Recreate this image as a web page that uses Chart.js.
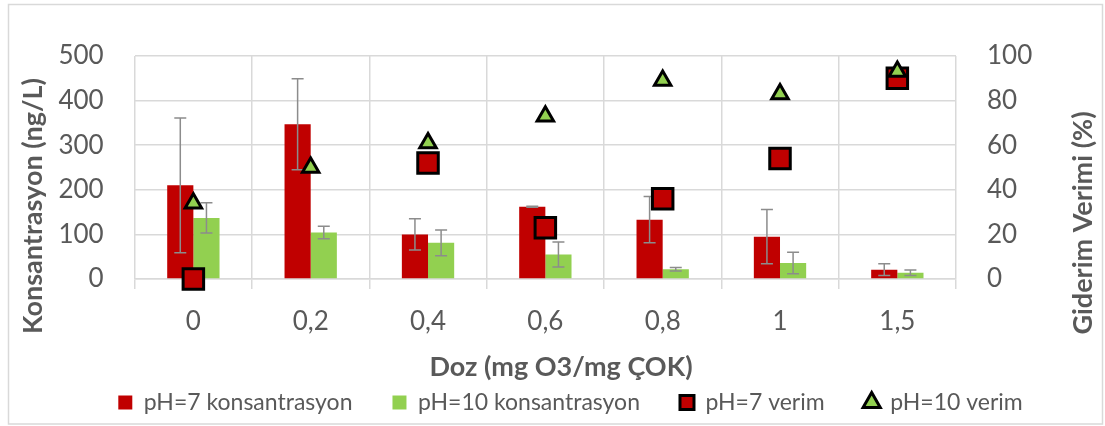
<!DOCTYPE html>
<html>
<head>
<meta charset="utf-8">
<script src="https://cdn.jsdelivr.net/npm/chart.js@4"></script>
<style>
    html, body { margin: 0; padding: 0; background: #ffffff; }
</style>
</head>
<body>
<canvas id="grafik" width="1105" height="426"></canvas>
<script>
// ================== VERİLER ==================
const dozlar = ['0', '0,2', '0,4', '0,6', '0,8', '1', '1,5'];

const ph7Konsantrasyon = [210, 347, 100, 162, 133, 95, 21];
const ph7Hata = [151, 102, 35, 1, 52, 61, 13];

const ph10Konsantrasyon = [137, 104, 81, 55, 22, 36, 14];
const ph10Hata = [34, 14, 29, 28, 4, 24, 6];

const ph7Verim = [0, null, 52, 23, 36, 54, 90];
const ph10Verim = [34, 50, 61, 73, 89, 83, 93];

const solEksenTikleri = [0, 100, 200, 300, 400, 500];
const sagEksenTikleri = [0, 20, 40, 60, 80, 100];

// ================== STİL ==================
const FONT = 'Lato, "Open Sans", sans-serif';
const YAZI = '#595959';
const IZGARA = '#d9d9d9';
const KIRMIZI = '#c00000';
const YESIL = '#92d050';

Chart.defaults.devicePixelRatio = 1;
Chart.defaults.font.family = FONT;
Chart.defaults.color = YAZI;

// hata çubukları (bar dataset index -> hata listesi)
const hataListeleri = { 0: ph7Hata, 1: ph10Hata };
const legendStilleri = ['rect', 'rect', 'rect', 'triangle'];

const hataCubuklari = {
    id: 'hataCubuklari',
    afterDatasetDraw(chart, args) {
        const hatalar = hataListeleri[args.index];
        if (!hatalar) return;
        const y = chart.scales.y;
        const degerler = chart.data.datasets[args.index].data;
        const ctx = chart.ctx;
        ctx.save();
        ctx.strokeStyle = '#8c8c8c';
        ctx.lineWidth = 1.5;
        args.meta.data.forEach((bar, i) => {
            const ust = y.getPixelForValue(degerler[i] + hatalar[i]);
            const alt = y.getPixelForValue(Math.max(degerler[i] - hatalar[i], 0));
            ctx.beginPath();
            ctx.moveTo(bar.x, ust); ctx.lineTo(bar.x, alt);
            ctx.moveTo(bar.x - 6, ust); ctx.lineTo(bar.x + 6, ust);
            ctx.moveTo(bar.x - 6, alt); ctx.lineTo(bar.x + 6, alt);
            ctx.stroke();
        });
        ctx.restore();
    }
};

// çerçeve + eksen başlıkları
const cerceveVeBasliklar = {
    id: 'cerceveVeBasliklar',
    beforeDraw(chart) {
        const ctx = chart.ctx;
        ctx.save();
        ctx.fillStyle = '#ffffff';
        ctx.fillRect(0, 0, chart.width, chart.height);
        ctx.strokeStyle = IZGARA;
        ctx.lineWidth = 1.5;
        ctx.strokeRect(8.5, 4.5, 1094, 419.5);
        ctx.restore();
    },
    afterDraw(chart) {
        const ctx = chart.ctx;
        ctx.save();
        ctx.fillStyle = YAZI;
        ctx.font = 'bold 27px ' + FONT;
        ctx.textAlign = 'center';
        ctx.textBaseline = 'middle';

        ctx.fillText('Doz (mg O3/mg ÇOK)', 561, 367);

        ctx.save();
        ctx.translate(33, 206);
        ctx.rotate(-Math.PI / 2);
        ctx.fillText('Konsantrasyon (ng/L)', 0, 0);
        ctx.restore();

        ctx.save();
        ctx.translate(1083, 223);
        ctx.rotate(-Math.PI / 2);
        ctx.fillText('Giderim Verimi (%)', 0, 0);
        ctx.restore();

        ctx.restore();
    }
};

// ================== GRAFİK ==================
new Chart(document.getElementById('grafik'), {
    type: 'bar',
    data: {
        labels: dozlar,
        datasets: [
            {
                label: 'pH=7 konsantrasyon',
                data: ph7Konsantrasyon,
                backgroundColor: KIRMIZI,
                borderWidth: 0,
                categoryPercentage: 0.446,
                barPercentage: 1.0,
                yAxisID: 'y',
                order: 2
            },
            {
                label: 'pH=10 konsantrasyon',
                data: ph10Konsantrasyon,
                backgroundColor: YESIL,
                borderWidth: 0,
                categoryPercentage: 0.446,
                barPercentage: 1.0,
                yAxisID: 'y',
                order: 2
            },
            {
                type: 'line',
                label: 'pH=7 verim',
                data: ph7Verim,
                showLine: false,
                clip: false,
                pointStyle: 'rect',
                pointRadius: 14.5,
                pointHoverRadius: 14.5,
                pointBackgroundColor: KIRMIZI,
                pointBorderColor: '#000000',
                pointBorderWidth: 3,
                backgroundColor: KIRMIZI,
                borderColor: '#000000',
                borderWidth: 3,
                yAxisID: 'y2',
                order: 1
            },
            {
                type: 'line',
                label: 'pH=10 verim',
                data: ph10Verim,
                showLine: false,
                clip: false,
                pointStyle: 'triangle',
                pointRadius: 9.5,
                pointHoverRadius: 9.5,
                pointBackgroundColor: YESIL,
                pointBorderColor: '#000000',
                pointBorderWidth: 3,
                backgroundColor: YESIL,
                borderColor: '#000000',
                borderWidth: 3,
                yAxisID: 'y2',
                order: 0
            }
        ]
    },
    options: {
        responsive: false,
        animation: false,
        layout: {
            padding: { left: 36, right: 0, top: 56, bottom: 2 }
        },
        plugins: {
            tooltip: { enabled: false },
            legend: {
                position: 'bottom',
                labels: {
                    color: YAZI,
                    font: { size: 23 },
                    usePointStyle: true,
                    boxWidth: 14,
                    boxHeight: 14,
                    padding: 40,
                    sort: (a, b) => a.datasetIndex - b.datasetIndex,
                    generateLabels(chart) {
                        const items = Chart.defaults.plugins.legend.labels.generateLabels(chart);
                        items.forEach(it => { it.pointStyle = legendStilleri[it.datasetIndex]; });
                        return items;
                    }
                }
            }
        },
        scales: {
            x: {
                offset: true,
                grid: {
                    offset: true,
                    color: IZGARA,
                    lineWidth: 1.5,
                    drawTicks: true,
                    tickLength: 10
                },
                border: { color: IZGARA, width: 1.5 },
                ticks: {
                    color: YAZI,
                    font: { size: 26 },
                    padding: 17,
                    maxRotation: 0
                },
                afterFit(scale) { scale.height = 72; }
            },
            y: {
                position: 'left',
                min: 0,
                max: 500,
                afterBuildTicks(scale) { scale.ticks = solEksenTikleri.map(v => ({ value: v })); },
                grid: { color: IZGARA, lineWidth: 1.5, drawTicks: false },
                border: { display: false },
                ticks: {
                    color: YAZI,
                    font: { size: 26 },
                    padding: 31
                },
                afterFit(scale) { scale.width = 98.7; }
            },
            y2: {
                position: 'right',
                min: 0,
                max: 100,
                afterBuildTicks(scale) { scale.ticks = sagEksenTikleri.map(v => ({ value: v })); },
                grid: { display: false, drawTicks: false },
                border: { display: false },
                ticks: {
                    color: YAZI,
                    font: { size: 26 },
                    padding: 31
                },
                afterFit(scale) { scale.width = 149; }
            }
        }
    },
    plugins: [hataCubuklari, cerceveVeBasliklar]
});
</script>
</body>
</html>
